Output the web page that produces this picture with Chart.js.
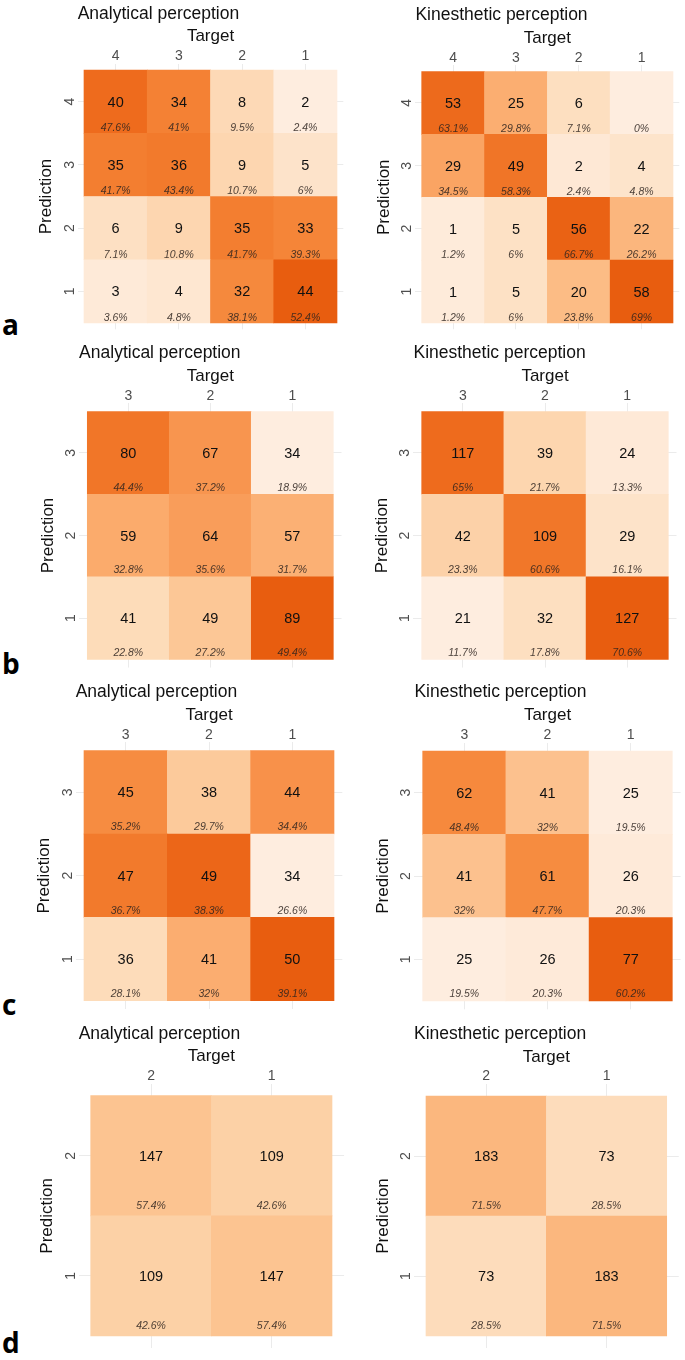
<!DOCTYPE html>
<html>
<head>
<meta charset="utf-8">
<script src="https://cdn.jsdelivr.net/npm/chart.js@4.4.1/dist/chart.umd.min.js"></script>
<style>
  html, body { margin: 0; padding: 0; background: #fff; }
  #page { position: relative; width: 685px; height: 1360px; overflow: hidden; }
  .panel { position: absolute; }
  .letter { position: absolute; left: 2px; font: bold 28px "Open Sans", "Liberation Sans", sans-serif; line-height: 1; color: #000; }
</style>
</head>
<body>
<div id="page">
  <div class="letter" style="top:310px">a</div>
  <div class="letter" style="top:649px">b</div>
  <div class="letter" style="top:990px">c</div>
  <div class="letter" style="top:1328px">d</div>
</div>
<script>
// category labels (target / prediction, top-to-bottom and left-to-right)
const targets4 = ["4", "3", "2", "1"];
const targets3 = ["3", "2", "1"];
const targets2 = ["2", "1"];

// counts, rows = prediction (top to bottom), columns = target
const aAnalyticalCounts = [[40, 34, 8, 2], [35, 36, 9, 5], [6, 9, 35, 33], [3, 4, 32, 44]];
const aAnalyticalPct = [[47.6, 41, 9.5, 2.4], [41.7, 43.4, 10.7, 6], [7.1, 10.8, 41.7, 39.3], [3.6, 4.8, 38.1, 52.4]];
const aKinestheticCounts = [[53, 25, 6, 0], [29, 49, 2, 4], [1, 5, 56, 22], [1, 5, 20, 58]];
const aKinestheticPct = [[63.1, 29.8, 7.1, 0], [34.5, 58.3, 2.4, 4.8], [1.2, 6, 66.7, 26.2], [1.2, 6, 23.8, 69]];

const bAnalyticalCounts = [[80, 67, 34], [59, 64, 57], [41, 49, 89]];
const bAnalyticalPct = [[44.4, 37.2, 18.9], [32.8, 35.6, 31.7], [22.8, 27.2, 49.4]];
const bKinestheticCounts = [[117, 39, 24], [42, 109, 29], [21, 32, 127]];
const bKinestheticPct = [[65, 21.7, 13.3], [23.3, 60.6, 16.1], [11.7, 17.8, 70.6]];

const cAnalyticalCounts = [[45, 38, 44], [47, 49, 34], [36, 41, 50]];
const cAnalyticalPct = [[35.2, 29.7, 34.4], [36.7, 38.3, 26.6], [28.1, 32, 39.1]];
const cKinestheticCounts = [[62, 41, 25], [41, 61, 26], [25, 26, 77]];
const cKinestheticPct = [[48.4, 32, 19.5], [32, 47.7, 20.3], [19.5, 20.3, 60.2]];

const dAnalyticalCounts = [[147, 109], [109, 147]];
const dAnalyticalPct = [[57.4, 42.6], [42.6, 57.4]];
const dKinestheticCounts = [[183, 73], [73, 183]];
const dKinestheticPct = [[71.5, 28.5], [28.5, 71.5]];

Chart.defaults.font.family = '"Liberation Sans", Arial, sans-serif';
Chart.defaults.color = "#000";

// orange fill gradient
const stops = [
    [0, [254, 237, 223]], [0.125, [253, 220, 186]], [0.25, [252, 202, 155]],
    [0.44, [251, 173, 111]], [0.625, [248, 145, 74]], [0.7, [246, 139, 63]],
    [0.81, [242, 122, 44]], [0.9, [238, 108, 30]], [1, [232, 93, 15]]
];
function fillFor(v, lo, hi) {
    let t = (v - lo) / (hi - lo);
    t = Math.max(0, Math.min(1, t));
    for (let i = 1; i < stops.length; i++) {
        if (t <= stops[i][0]) {
            const [t0, c0] = stops[i - 1];
            const [t1, c1] = stops[i];
            const f = (t - t0) / (t1 - t0);
            const c = c0.map((x, k) => Math.round(x + (c1[k] - x) * f));
            return `rgb(${c[0]},${c[1]},${c[2]})`;
        }
    }
    return "rgb(232,93,15)";
}

const cellText = {
    id: "cellText",
    afterDatasetsDraw(chart) {
        const ctx = chart.ctx;
        const meta = chart.getDatasetMeta(0);
        const data = chart.data.datasets[0].data;
        ctx.save();
        ctx.textAlign = "center";
        ctx.textBaseline = "middle";
        meta.data.forEach((bar, i) => {
            const d = data[i];
            const top = Math.min(bar.y, bar.base);
            const h = Math.abs(bar.base - bar.y);
            const cy = top + h / 2;
            if (d.count > 0) {
                ctx.font = '14.5px "Liberation Sans", Arial, sans-serif';
                ctx.fillStyle = "#111";
                ctx.fillText(String(d.count), bar.x, cy + 1);
            }
            ctx.font = 'italic 10.5px "Liberation Sans", Arial, sans-serif';
            ctx.fillStyle = "rgba(45,35,30,0.85)";
            ctx.fillText(d.pct + "%", bar.x, cy + 0.42 * h);
        });
        ctx.restore();
    }
};

const panels = [
    { title: "Analytical perception", labels: targets4, counts: aAnalyticalCounts, pct: aAnalyticalPct, tiles: [84, 70, 337, 323] },
    { title: "Kinesthetic perception", labels: targets4, counts: aKinestheticCounts, pct: aKinestheticPct, tiles: [421.7, 71.5, 673, 323] },
    { title: "Analytical perception", labels: targets3, counts: bAnalyticalCounts, pct: bAnalyticalPct, tiles: [87.3, 411.7, 333.3, 659.3] },
    { title: "Kinesthetic perception", labels: targets3, counts: bKinestheticCounts, pct: bKinestheticPct, tiles: [421.7, 411.7, 668.3, 659.3] },
    { title: "Analytical perception", labels: targets3, counts: cAnalyticalCounts, pct: cAnalyticalPct, tiles: [84, 750.7, 334, 1000.7] },
    { title: "Kinesthetic perception", labels: targets3, counts: cKinestheticCounts, pct: cKinestheticPct, tiles: [422.7, 751, 672.3, 1001] },
    { title: "Analytical perception", labels: targets2, counts: dAnalyticalCounts, pct: dAnalyticalPct, tiles: [90.7, 1095.7, 332, 1336], limits: [20, 455] },
    { title: "Kinesthetic perception", labels: targets2, counts: dKinestheticCounts, pct: dKinestheticPct, tiles: [426, 1096, 666.7, 1336], limits: [20, 455] }
];

const page = document.getElementById("page");

panels.forEach((p) => {
    const n = p.labels.length;
    const [tl, tt, tr, tb] = p.tiles;
    const cw = (tr - tl) / n, ch = (tb - tt) / n;
    const pl = tl - 0.1 * cw, pr = tr + 0.1 * cw;
    const pt = tt - 0.1 * ch, pb = tb + 0.1 * ch;

    const cl = Math.floor(pl - 46), ct = Math.floor(pt - 64);
    const cr = Math.min(685, Math.ceil(pr) + 2), cb = Math.ceil(pb) + 16;
    const yAxisW = pl - cl;
    const xAxisH = 39.5;
    const titlePadTop = (pt - 50) - ct - 10.5;
    const predPad = (pl - 31) - cl - 10.2;

    const flat = p.counts.flat();
    const lo = p.limits ? p.limits[0] : Math.min(...flat);
    const hi = p.limits ? p.limits[1] : Math.max(...flat);

    const cells = [];
    p.counts.forEach((row, r) => {
        row.forEach((v, c) => {
            cells.push({ x: c + 0.5, y: [r, r + 1], count: v, pct: p.pct[r][c] });
        });
    });

    const div = document.createElement("div");
    div.className = "panel";
    div.style.left = cl + "px";
    div.style.top = ct + "px";
    const canvas = document.createElement("canvas");
    canvas.width = cr - cl;
    canvas.height = cb - ct;
    canvas.style.width = (cr - cl) + "px";
    canvas.style.height = (cb - ct) + "px";
    div.appendChild(canvas);
    page.appendChild(div);

    new Chart(canvas, {
        type: "bar",
        data: {
            datasets: [{
                data: cells,
                backgroundColor: cells.map((d) => fillFor(d.count, lo, hi)),
                borderWidth: 0,
                barPercentage: 1,
                categoryPercentage: 1,
                grouped: false
            }]
        },
        options: {
            responsive: false,
            animation: false,
            devicePixelRatio: 1,
            layout: { padding: { left: 0, top: 0, right: cr - pr, bottom: cb - pb } },
            plugins: {
                legend: { display: false },
                tooltip: { enabled: false },
                title: {
                    display: true,
                    text: p.title,
                    align: "start",
                    fullSize: false,
                    color: "#111",
                    font: { size: 17.5, weight: "normal" },
                    padding: { top: titlePadTop, bottom: 0 }
                }
            },
            scales: {
                x: {
                    type: "linear",
                    position: "top",
                    offset: false,
                    min: -0.1,
                    max: n + 0.1,
                    afterBuildTicks: (s) => { s.ticks = p.labels.map((_, i) => ({ value: i + 0.5 })); },
                    afterFit: (s) => { s.height = xAxisH; },
                    ticks: {
                        autoSkip: false,
                        padding: 0.5,
                        color: "#4d4d4d",
                        font: { size: 14, lineHeight: 1 },
                        callback: (v, i) => p.labels[i]
                    },
                    grid: { color: "#ebebeb", lineWidth: 1, drawTicks: false, offset: false },
                    border: { display: false },
                    title: {
                        display: true,
                        text: "Target",
                        color: "#111",
                        font: { size: 17 },
                        padding: { top: 2.3, bottom: 0 }
                    }
                },
                y: {
                    type: "linear",
                    reverse: true,
                    min: -0.1,
                    max: n + 0.1,
                    afterBuildTicks: (s) => { s.ticks = p.labels.map((_, i) => ({ value: i + 0.5 })); },
                    afterFit: (s) => { s.width = yAxisW; },
                    ticks: {
                        autoSkip: false,
                        padding: 4,
                        minRotation: 90,
                        maxRotation: 90,
                        crossAlign: "center",
                        color: "#4d4d4d",
                        font: { size: 14 },
                        callback: (v, i) => p.labels[i]
                    },
                    grid: { color: "#ebebeb", lineWidth: 1, drawTicks: false },
                    border: { display: false },
                    title: {
                        display: true,
                        text: "Prediction",
                        color: "#111",
                        font: { size: 17 },
                        padding: { top: predPad, bottom: 0 }
                    }
                }
            }
        },
        plugins: [cellText]
    });
});
</script>
</body>
</html>
